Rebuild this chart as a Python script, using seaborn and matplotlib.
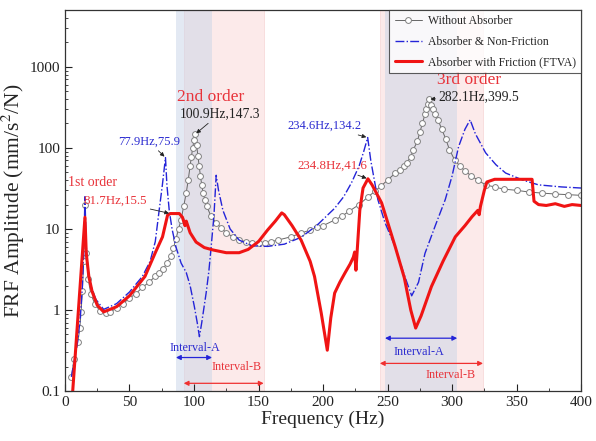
import pandas as pd
import matplotlib
matplotlib.use("Agg")
import matplotlib.pyplot as plt
import seaborn as sns

# FRF curves (frequency in Hz, amplitude in mm/s^2/N)
black_f = [5, 7, 10, 11.5, 12.5, 13.5, 14.5, 15.5, 16.5, 18, 20, 23, 27, 32, 35, 40,
           45, 50, 55, 60, 65, 70, 73, 76, 79, 82, 84, 86, 88, 90, 92, 94, 95.5, 97,
           98, 99, 100, 100.9, 102, 103, 104, 105, 106, 107, 108.5, 110, 113, 117,
           121, 125, 130, 135, 140, 145, 150, 155, 160, 165, 175, 183, 190, 195, 200,
           209, 215, 220, 228, 235, 240, 245, 250, 256, 260, 263, 265, 268, 270, 273,
           275, 277, 279, 280, 281, 282.1, 283.5, 285, 287, 289, 292, 295, 298, 302,
           306, 310, 315, 320, 326, 333, 340, 350, 360, 370, 380, 390, 400]
black_a = [0.15, 0.25, 0.4, 0.6, 0.95, 1.7, 4, 20, 5, 2.4, 1.6, 1.2, 0.98, 0.92, 0.95, 1.05,
           1.2, 1.4, 1.6, 1.9, 2.2, 2.6, 2.9, 3.2, 3.8, 4.6, 5.8, 7.5, 10, 13, 19, 28, 40, 60,
           78, 100, 125, 147.3, 110, 80, 60, 45, 35, 28, 23, 19, 14.5, 12,
           10.3, 9, 8, 7.3, 7, 6.8, 6.8, 6.8, 7, 7.3, 8, 8.9, 9.7, 10.5, 11,
           12.9, 14.5, 16.5, 20, 25, 29, 34, 40, 49, 54, 60, 66, 78, 95, 120,
           155, 200, 260, 300, 350, 399.5, 340, 300, 260, 224, 170, 130, 95, 71,
           60, 52, 45, 40, 35, 33, 31, 30, 28.5, 27.7, 27, 26.5, 26]

blue_f = [5, 8, 10, 12, 13.5, 14.5, 15.5, 16.5, 18, 20, 24, 30, 40, 50, 60, 66, 70,
          73, 75.5, 77.9, 79, 80.8, 83, 86, 90, 94, 97, 100.3, 102.5, 104.2, 106,
          109.4, 111.5, 113.3, 115.5, 117.2, 119, 122.4, 128, 135, 145, 157, 170,
          183, 195, 209, 216, 222, 228, 231.5, 234.6, 237, 242.5, 248, 256, 262,
          268.7, 274, 279, 287, 294.7, 300, 305, 310, 314, 318, 326, 334, 341.5,
          355, 367, 385, 400]
blue_a = [0.15, 0.28, 0.42, 0.85, 2, 5, 25, 6, 3, 2, 1.35, 1.02, 1.2, 1.67, 2.6, 4, 7,
          17, 35, 75.9, 35, 17, 10, 6, 3.8, 2.9, 2.0, 1.1, 0.7, 0.47, 0.7,
          1.62, 3, 6, 15, 46, 30, 17, 10, 7.3, 6.2, 6.1, 6.5,
          7.9, 11, 18, 25, 37, 60, 90, 134.2, 70, 23, 12, 6, 3,
          1.5, 2.2, 5, 11, 23, 45, 103, 170, 222, 150, 87, 62, 49,
          40, 35, 33, 32]

red_f = [6, 15.5, 16.5, 18.5, 21, 25, 30, 40, 50, 62, 70, 75.6, 79.5, 81.7, 88.6,
         91, 93, 94, 97, 101.6, 108, 115, 125, 135, 142, 150, 157, 163, 168, 170,
         176, 183, 190, 193.4, 198.6, 203.3, 206, 209, 213, 217, 221, 223.5, 224.5,
         225.5, 228.5, 231, 234.8, 238, 245.4, 256, 263, 268, 271.8, 276, 284, 293,
         302.5, 310, 315.5, 320, 321, 322, 325, 327, 333, 350, 362, 363.5, 367,
         373, 380, 387, 393, 400]
red_a = [0.1, 14, 5, 2.6, 1.7, 1.15, 0.95, 1.1, 1.5, 2.6, 5.1, 8, 14.8, 15.5, 15.5,
         14, 11, 12.5, 9, 6.9, 5.9, 5.5, 5.1, 5.1, 5.6, 7, 9.7, 12.5, 15.8, 15,
         11, 7.3, 4, 2.6, 0.92, 0.32, 0.8, 1.62, 2.2, 2.87, 3.7, 4.5, 5.2,
         3.1, 17, 32, 41.6, 35, 21, 6, 2.5, 1.0, 0.6, 0.85, 1.95, 4,
         8, 11, 14.2, 17, 15, 19, 30, 38, 41, 41, 41, 22, 20,
         19.5, 20.5, 19, 20, 19.5]

# frequency intervals (Hz)
interval_a = [(86, 114), (248, 304)]
interval_b = [(92, 154), (244, 324)]

df_black = pd.DataFrame({"f": black_f, "a": black_a})
df_blue = pd.DataFrame({"f": blue_f, "a": blue_a})
df_red = pd.DataFrame({"f": red_f, "a": red_a})

sns.set_style("ticks")
plt.rcParams["font.family"] = ["Liberation Serif", "DejaVu Serif"]
plt.rcParams["mathtext.fontset"] = "stix"

fig = plt.figure(figsize=(5.96, 4.41), dpi=100)
ax = fig.add_axes([0.109, 0.113, 0.866, 0.864])

# shaded intervals
for lo, hi in interval_b:
    ax.axvspan(lo, hi, color="#fbd6d6", alpha=0.5, lw=0.6, ec="#f3c0c0", zorder=0)
for lo, hi in interval_a:
    ax.axvspan(lo, hi, color="#c9d5e8", alpha=0.5, lw=0, zorder=0)

sns.lineplot(data=df_black, x="f", y="a", ax=ax, sort=False, estimator=None,
             color="#666666", lw=0.7, marker="o", markersize=4.2,
             markerfacecolor="white", markeredgecolor="#808080", markeredgewidth=0.7,
             label="Without Absorber")
sns.lineplot(data=df_blue, x="f", y="a", ax=ax, sort=False, estimator=None,
             color="#2424d8", lw=1.0, linestyle="-.", label="Absorber & Non-Friction")
sns.lineplot(data=df_red, x="f", y="a", ax=ax, sort=False, estimator=None,
             color="#f01414", lw=2.2, label="Absorber with Friction (FTVA)")

ax.set_yscale("log")
ax.set_xlim(0, 400)
ax.set_ylim(0.1, 5000)
ax.set_xticks(range(0, 401, 50))
ax.set_xticks(range(0, 401, 25), minor=True)
ax.set_yticks([0.1, 1, 10, 100, 1000])
ax.set_yticklabels(["0.1", "1", "10", "100", "1000"])
ax.tick_params(axis="both", which="major", direction="in", length=5, width=0.8,
               labelsize=11, colors="#222222")
ax.tick_params(axis="both", which="minor", direction="in", length=2.5, width=0.6)
for s in ax.spines.values():
    s.set_linewidth(0.9)
    s.set_color("#333333")

ax.set_xlabel("Frequency (Hz)", fontsize=14, labelpad=1)
ax.set_ylabel("FRF Amplitude (mm/s$^2$/N)", fontsize=15.5, labelpad=2)

red_t = "#e8333a"
blue_t = "#2b2bd0"
arrow = dict(arrowstyle="-|>", color="#222222", lw=0.6, mutation_scale=6,
             shrinkA=0, shrinkB=1)

ax.text(21, 37, "1st order", color=red_t, fontsize=10, ha="center", va="center")
ax.annotate("81.7Hz,15.5", xy=(81.7, 15.5), xytext=(39, 22), color=red_t,
            fontsize=9.3, ha="center", va="center", arrowprops=arrow)
ax.annotate("77.9Hz,75.9", xy=(77.9, 75.9), xytext=(65, 120), color=blue_t,
            fontsize=9, ha="center", va="center", arrowprops=arrow)
ax.text(113, 420, "2nd order", color=red_t, fontsize=12.5, ha="center", va="center")
ax.annotate("100.9Hz,147.3", xy=(100.9, 147.3), xytext=(120, 265), color="#222222",
            fontsize=9.8, ha="center", va="center", arrowprops=arrow)
ax.annotate("234.6Hz,134.2", xy=(234.6, 134.2), xytext=(201, 188), color=blue_t,
            fontsize=9, ha="center", va="center", arrowprops=arrow)
ax.annotate("234.8Hz,41.6", xy=(234.8, 41.6), xytext=(207, 60), color=red_t,
            fontsize=9.3, ha="center", va="center", arrowprops=arrow)
ax.text(313, 690, "3rd order", color=red_t, fontsize=12.5, ha="center", va="center")
ax.annotate("282.1Hz,399.5", xy=(282.1, 399.5), xytext=(321, 425), color="#222222",
            fontsize=9.8, ha="center", va="center", arrowprops=arrow)

# interval arrows
dbl = dict(arrowstyle="<|-|>", lw=0.9, mutation_scale=7, shrinkA=0, shrinkB=0)
ax.annotate("", xy=(interval_a[0][0], 0.26), xytext=(interval_a[0][1], 0.26),
            arrowprops=dict(dbl, color="#2424d8"))
ax.text(101, 0.34, "Interval-A", color=blue_t, fontsize=8.7, ha="center", va="center")
ax.annotate("", xy=(interval_b[0][0], 0.125), xytext=(interval_b[0][1], 0.125),
            arrowprops=dict(dbl, color="#f03030"))
ax.text(133, 0.2, "Interval-B", color=red_t, fontsize=8.7, ha="center", va="center")
ax.annotate("", xy=(interval_a[1][0], 0.45), xytext=(interval_a[1][1], 0.45),
            arrowprops=dict(dbl, color="#2424d8"))
ax.text(274, 0.30, "Interval-A", color=blue_t, fontsize=8.7, ha="center", va="center")
ax.annotate("", xy=(interval_b[1][0], 0.22), xytext=(interval_b[1][1], 0.22),
            arrowprops=dict(dbl, color="#f03030"))
ax.text(299, 0.158, "Interval-B", color=red_t, fontsize=8.7, ha="center", va="center")

leg = ax.legend(loc="upper right", borderaxespad=0, fontsize=8.5, frameon=True,
                fancybox=False, handlelength=2.3, handletextpad=0.5,
                labelspacing=0.7, borderpad=0.45)
leg.get_frame().set_edgecolor("#333333")
leg.get_frame().set_linewidth(0.8)

fig.savefig("out.png", dpi=100)
